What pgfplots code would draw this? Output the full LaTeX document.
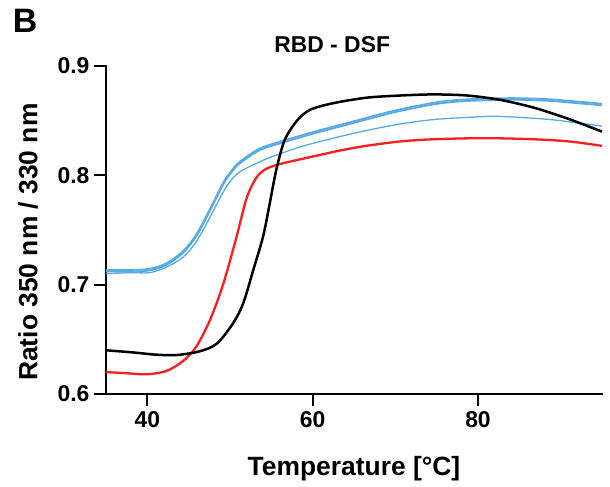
\documentclass[border=0pt]{standalone}
\usepackage{pgfplots}
\pgfplotsset{compat=1.18}
\usepackage{fontspec}
\setmainfont{Liberation Sans}
\definecolor{dsfblue}{RGB}{88,170,230}
\definecolor{dsfred}{RGB}{250,30,30}
\begin{document}
\begin{tikzpicture}
\path[use as bounding box] (-106bp,-93bp) rectangle (504bp,394bp);
\begin{axis}[
  scale only axis, width=496bp, height=328bp,
  xmin=35, xmax=95, ymin=0.6, ymax=0.9,
  axis lines*=left,
  axis line style={line width=1.8bp, line cap=rect},
  xtick={40,60,80}, xticklabels={40,60,80},
  ytick={0.6,0.7,0.8,0.9}, yticklabels={0.6,0.7,0.8,0.9},
  tick align=outside, major tick length=12bp,
  tick style={line width=1.8bp, black},
  /pgf/number format/assume math mode=true,
  ticklabel style={font=\fontsize{23}{26}\selectfont\bfseries},
  yticklabel style={xshift=-1bp},
  xticklabel style={yshift=-2bp},
  xlabel={Temperature [°C]},
  ylabel={Ratio 350 nm / 330 nm},
  label style={font=\fontsize{26.5}{30}\selectfont\bfseries},
  xlabel style={at={(axis description cs:0.5,-0.229)}, anchor=center},
  ylabel style={at={(axis description cs:-0.157,0.463)}, anchor=center, rotate=0},
  clip=false,
]
% thin blue
\addplot[dsfblue, line width=1.3bp, smooth] coordinates {
(35,0.710) (38,0.711) (40.3,0.711) (42.3,0.716) (44.3,0.725) (45.9,0.739) (47.6,0.762) (49.2,0.785) (50.4,0.798) (51.6,0.805) (54.4,0.815) (58.5,0.826) (62.5,0.834) (66.5,0.841) (70.6,0.847) (74.6,0.851) (78.7,0.853) (81.9,0.854) (85,0.853) (88.8,0.851) (92,0.848) (95,0.845)};
% thick blue (two traces)
\addplot[dsfblue, line width=1.8bp, smooth] coordinates {
(35,0.712) (38,0.712) (40.3,0.713) (42.3,0.718) (44.3,0.729) (45.9,0.744) (47.6,0.768) (49.2,0.792) (50.2,0.803) (51.2,0.811) (53.6,0.823) (56.8,0.831) (60.5,0.839) (63.5,0.845) (66.5,0.851) (69.5,0.857) (72.6,0.862) (75.6,0.866) (78.7,0.868) (82.7,0.869) (85.5,0.869) (88.8,0.868) (92,0.866) (95,0.864)};
\addplot[dsfblue, line width=1.8bp, smooth] coordinates {
(35,0.7135) (38,0.7135) (40.3,0.7145) (42.3,0.7195) (44.3,0.7305) (45.9,0.7455) (47.6,0.7695) (49.2,0.7935) (50.2,0.8045) (51.2,0.8125) (53.6,0.8245) (56.8,0.8325) (60.5,0.8405) (63.5,0.8465) (66.5,0.8525) (69.5,0.8585) (72.6,0.8635) (75.6,0.8675) (78.7,0.8695) (82.7,0.8705) (85.5,0.8705) (88.8,0.8695) (92,0.8675) (95,0.8655)};
% red
\addplot[dsfred, line width=2.3bp, smooth] coordinates {
(35,0.620) (37.5,0.619) (39.9,0.618) (42.3,0.621) (44.3,0.630) (45.9,0.643) (47.6,0.668) (49.2,0.701) (50.8,0.744) (52.0,0.779) (53.2,0.798) (54.4,0.806) (56.4,0.811) (60.5,0.818) (63.5,0.823) (66.5,0.827) (70.6,0.831) (74.6,0.833) (80.7,0.834) (86.7,0.833) (91,0.831) (95,0.827)};
% black
\addplot[black, line width=2.5bp, smooth] coordinates {
(35,0.640) (38.3,0.638) (41,0.636) (43.5,0.6356) (46.3,0.639) (48.4,0.646) (50.4,0.665) (51.6,0.683) (52.8,0.713) (54.0,0.744) (54.8,0.774) (55.6,0.805) (56.6,0.832) (58.1,0.850) (59.7,0.860) (62.5,0.866) (66.5,0.871) (70.6,0.873) (74.6,0.874) (78.7,0.873) (82.7,0.869) (86.7,0.862) (90.8,0.852) (95,0.840)};
\node[font=\fontsize{23}{26}\selectfont\bfseries] at (axis description cs:0.456,1.0655) {RBD - DSF};
\node[font=\fontsize{34}{38}\selectfont\bfseries] at (axis description cs:-0.163,1.137) {B};
\end{axis}
\end{tikzpicture}
\end{document}
